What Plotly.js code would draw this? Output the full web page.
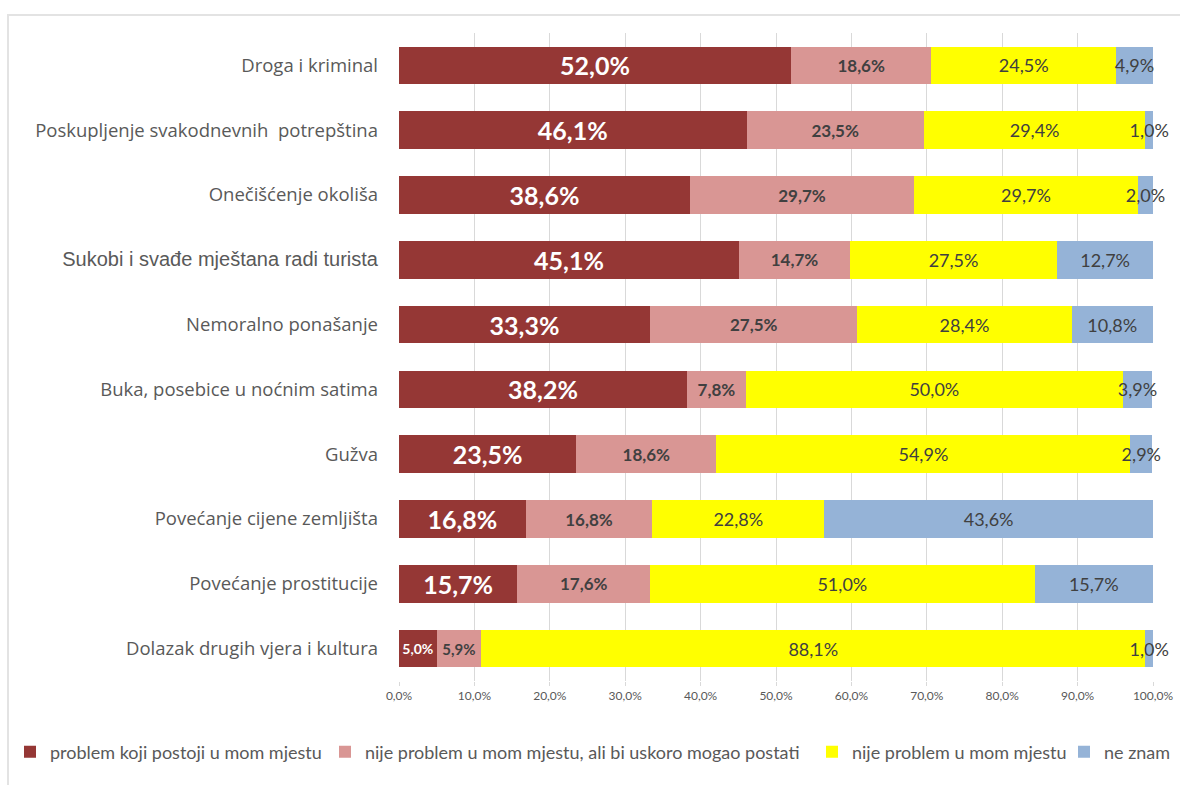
<!DOCTYPE html>
<html>
<head>
<meta charset="utf-8">
<script src="https://cdn.plot.ly/plotly-3.0.1.min.js"></script>
<style>
  html, body { margin: 0; padding: 0; background: #fff; }
  #wrap { position: relative; width: 1180px; height: 785px; }
  #chart { width: 1180px; height: 785px; }
  #frame { position: absolute; left: 7px; top: 14px; width: 1180px; height: 785px;
           border-left: 2px solid #e3e3e3; border-top: 2px solid #e3e3e3; pointer-events: none; }
</style>
</head>
<body>
<div id="wrap">
  <div id="chart"></div>
  <div id="frame"></div>
</div>
<script>
const categories = [
  "Droga i kriminal",
  "Poskupljenje svakodnevnih  potrepština",
  "Onečišćenje okoliša",
  "Sukobi i svađe mještana radi turista",
  "Nemoralno ponašanje",
  "Buka, posebice u noćnim satima",
  "Gužva",
  "Povećanje cijene zemljišta",
  "Povećanje prostitucije",
  "Dolazak drugih vjera i kultura"
];
const seriesNames = [
  "problem koji postoji u mom mjestu",
  "nije problem u mom mjestu, ali bi uskoro mogao postati",
  "nije problem u mom mjestu",
  "ne znam"
];
const problemExists = [52.0, 46.1, 38.6, 45.1, 33.3, 38.2, 23.5, 16.8, 15.7, 5.0];
const mayBecome     = [18.6, 23.5, 29.7, 14.7, 27.5, 7.8, 18.6, 16.8, 17.6, 5.9];
const notProblem    = [24.5, 29.4, 29.7, 27.5, 28.4, 50.0, 54.9, 22.8, 51.0, 88.1];
const dontKnow      = [4.9, 1.0, 2.0, 12.7, 10.8, 3.9, 2.9, 43.6, 15.7, 1.0];
const tickValues = [0, 10, 20, 30, 40, 50, 60, 70, 80, 90, 100];

const colors = ["#953735", "#D99694", "#FFFF00", "#95B3D7"];
const FONT = "Lato, 'Open Sans', sans-serif";
const CATFONT = "'Open Sans', Lato, sans-serif";

const tickText = categories.map(c => c.startsWith("Sukobi")
  ? '<span style="font-family:Liberation Sans;font-size:20px">' + c + '</span>'
  : c);

const legendIds = ["legend", "legend2", "legend3", "legend4"];

function mk(vals, i, font) {
  return {
    type: "bar", orientation: "h",
    name: seriesNames[i],
    legend: legendIds[i],
    y: categories, x: vals.map(v => v / 100),
    marker: { color: colors[i], line: { width: 0 } },
    texttemplate: "%{x:.1%}",
    textposition: "inside",
    insidetextanchor: "middle",
    constraintext: "none",
    textangle: 0,
    textfont: font,
    hoverinfo: "skip",
    cliponaxis: false
  };
}

const data = [
  mk(problemExists, 0, { family: FONT, color: "#ffffff", weight: "bold",
     size: problemExists.map(v => v < 7 ? 14 : 25) }),
  mk(mayBecome, 1, { family: FONT, color: "#404040", weight: "bold",
     size: mayBecome.map(v => v < 7 ? 15 : 17) }),
  mk(notProblem, 2, { family: FONT, color: "#404040", size: 18 }),
  mk(dontKnow, 3, { family: FONT, color: "#404040", size: 18 })
];

const legendTextStart = [50, 365, 852, 1104];
function leg(i) {
  return {
    orientation: "h",
    xref: "container", yref: "container",
    x: (legendTextStart[i] - 40) / 1180, y: 1 - 752 / 785,
    xanchor: "left", yanchor: "middle",
    font: { size: 18, color: "#595959", family: FONT },
    itemwidth: 30, bgcolor: "rgba(0,0,0,0)"
  };
}

const layout = {
  width: 1180, height: 785,
  barmode: "stack",
  bargap: 0.42,
  separators: ", ",
  margin: { l: 399, r: 27, t: 33, b: 104 },
  paper_bgcolor: "#ffffff",
  plot_bgcolor: "#ffffff",
  font: { family: FONT, color: "#595959" },
  xaxis: {
    range: [0, 1], tickvals: tickValues.map(v => v / 100),
    tickformat: ".1%",
    showgrid: true, gridcolor: "#d9d9d9", gridwidth: 1,
    zeroline: false, showline: false,
    ticks: "outside", ticklen: 4, tickcolor: "#d9d9d9",
    tickfont: { size: 12, color: "#595959", family: FONT },
    fixedrange: true
  },
  yaxis: {
    type: "category",
    autorange: "reversed",
    tickvals: categories, ticktext: tickText,
    ticks: "", showgrid: false, zeroline: false, showline: false,
    ticklabelstandoff: 20,
    tickfont: { size: 18.5, color: "#595959", family: CATFONT },
    fixedrange: true
  },
  showlegend: true,
  legend: leg(0), legend2: leg(1), legend3: leg(2), legend4: leg(3)
};

Plotly.newPlot("chart", data, layout, { displayModeBar: false, staticPlot: true });
</script>
</body>
</html>
